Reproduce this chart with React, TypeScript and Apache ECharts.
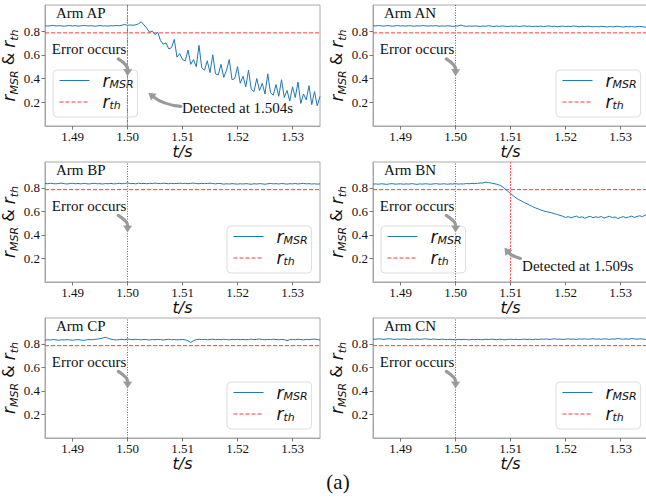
import React, { useEffect, useRef } from 'react';
import * as echarts from 'echarts';

// ---------------- data ----------------
const T_START = 1.485;
const T_END = 1.535;
const T_STEP = 0.0005;
const X_TICKS = [1.49, 1.5, 1.51, 1.52, 1.53];
const Y_TICKS = [0.2, 0.4, 0.6, 0.8];
const Y_MIN = 0;
const Y_MAX = 1.02;
const THRESHOLD = 0.785;
const ERROR_TIME = 1.5;
const ARM_NAMES = ['AP', 'AN', 'BP', 'BN', 'CP', 'CN'];
const DETECT_TIMES: Record<string, number> = { AP: 1.504, BN: 1.509 };

const R_AP = [
  0.846, 0.842, 0.845, 0.848, 0.843, 0.846, 0.844, 0.841, 0.845, 0.847,
  0.843, 0.846, 0.842, 0.844, 0.848, 0.845, 0.843, 0.846, 0.841, 0.844,
  0.847, 0.843, 0.845, 0.842, 0.846, 0.844, 0.848, 0.845, 0.85, 0.856,
  0.848, 0.852, 0.849, 0.853, 0.862, 0.878, 0.852, 0.825, 0.79, 0.8,
  0.77, 0.79, 0.72, 0.69, 0.7, 0.65, 0.66, 0.73, 0.58, 0.61,
  0.56, 0.55, 0.64, 0.52, 0.56, 0.5, 0.68, 0.49, 0.47, 0.55,
  0.45, 0.6, 0.44, 0.43, 0.52, 0.41, 0.47, 0.56, 0.39, 0.4,
  0.5, 0.36, 0.42, 0.33, 0.47, 0.31, 0.29, 0.4, 0.3, 0.36,
  0.27, 0.44, 0.28, 0.26, 0.35, 0.25, 0.39, 0.24, 0.3, 0.21,
  0.33, 0.24, 0.37, 0.19, 0.27, 0.22, 0.34, 0.18, 0.29, 0.17, 0.25,
];
const R_AN = [
  0.846, 0.843, 0.847, 0.844, 0.842, 0.846, 0.845, 0.841, 0.844, 0.847,
  0.843, 0.845, 0.842, 0.846, 0.844, 0.841, 0.845, 0.843, 0.847, 0.844,
  0.842, 0.845, 0.843, 0.846, 0.841, 0.844, 0.842, 0.845, 0.843, 0.84,
  0.842, 0.844, 0.851, 0.843, 0.84, 0.843, 0.841, 0.844, 0.842, 0.839,
  0.843, 0.841, 0.845, 0.842, 0.839, 0.843, 0.84, 0.844, 0.841, 0.838,
  0.842, 0.84, 0.843, 0.839, 0.841, 0.844, 0.84, 0.842, 0.838, 0.841,
  0.839, 0.842, 0.838, 0.841, 0.843, 0.839, 0.841, 0.837, 0.84, 0.842,
  0.838, 0.841, 0.839, 0.843, 0.84, 0.837, 0.84, 0.838, 0.841, 0.839,
  0.836, 0.839, 0.837, 0.84, 0.838, 0.835, 0.839, 0.836, 0.838, 0.841,
  0.837, 0.834, 0.838, 0.836, 0.839, 0.835, 0.837, 0.84, 0.836, 0.834, 0.838,
];
const R_BP = [
  0.838, 0.835, 0.839, 0.836, 0.834, 0.838, 0.84, 0.836, 0.833, 0.837,
  0.839, 0.835, 0.837, 0.834, 0.838, 0.836, 0.833, 0.837, 0.839, 0.835,
  0.836, 0.833, 0.837, 0.835, 0.838, 0.834, 0.836, 0.839, 0.835, 0.837,
  0.843, 0.836, 0.838, 0.834, 0.84, 0.836, 0.838, 0.835, 0.839, 0.837,
  0.841, 0.838, 0.836, 0.84, 0.837, 0.835, 0.839, 0.836, 0.838, 0.84,
  0.837, 0.839, 0.835, 0.838, 0.841, 0.837, 0.835, 0.839, 0.836, 0.838,
  0.84, 0.837, 0.834, 0.838, 0.836, 0.832, 0.835, 0.833, 0.836, 0.834,
  0.832, 0.835, 0.833, 0.836, 0.834, 0.831, 0.835, 0.833, 0.836, 0.834,
  0.831, 0.835, 0.838, 0.834, 0.836, 0.833, 0.837, 0.835, 0.832, 0.836,
  0.834, 0.837, 0.833, 0.836, 0.838, 0.834, 0.836, 0.833, 0.835, 0.832, 0.834,
];
const R_BN = [
  0.832, 0.834, 0.831, 0.835, 0.833, 0.83, 0.834, 0.836, 0.832, 0.833,
  0.835, 0.831, 0.834, 0.832, 0.836, 0.833, 0.83, 0.834, 0.832, 0.835,
  0.833, 0.831, 0.834, 0.836, 0.832, 0.833, 0.835, 0.831, 0.834, 0.833,
  0.836, 0.832, 0.834, 0.833, 0.837, 0.835, 0.838, 0.836, 0.839, 0.841,
  0.842, 0.849, 0.845, 0.841, 0.836, 0.831, 0.823, 0.811, 0.792, 0.772,
  0.752, 0.733, 0.715, 0.7, 0.688, 0.676, 0.665, 0.652, 0.641, 0.63,
  0.622, 0.612, 0.604, 0.598, 0.593, 0.588, 0.58, 0.574, 0.566, 0.559,
  0.548, 0.556, 0.545, 0.553, 0.56, 0.547, 0.555, 0.542, 0.552, 0.558,
  0.546, 0.554, 0.549, 0.557, 0.544, 0.551, 0.559, 0.547, 0.553, 0.54,
  0.548, 0.556, 0.545, 0.552, 0.56, 0.549, 0.557, 0.563, 0.555, 0.57, 0.566,
];
const R_CP = [
  0.832, 0.835, 0.833, 0.837, 0.834, 0.831, 0.835, 0.833, 0.836, 0.834,
  0.831, 0.834, 0.836, 0.833, 0.83, 0.834, 0.837, 0.835, 0.838, 0.84,
  0.844, 0.85, 0.856, 0.848, 0.84, 0.836, 0.833, 0.837, 0.839, 0.835,
  0.841, 0.838, 0.836, 0.839, 0.837, 0.834, 0.838, 0.836, 0.833, 0.837,
  0.835, 0.838, 0.836, 0.833, 0.837, 0.839, 0.835, 0.837, 0.834, 0.836,
  0.838, 0.834, 0.826, 0.812, 0.828, 0.836, 0.839, 0.836, 0.838, 0.835,
  0.837, 0.84, 0.836, 0.838, 0.835, 0.839, 0.837, 0.834, 0.838, 0.836,
  0.839, 0.836, 0.838, 0.835, 0.837, 0.84, 0.836, 0.838, 0.842, 0.837,
  0.835, 0.838, 0.836, 0.839, 0.837, 0.835, 0.838, 0.836, 0.828, 0.835,
  0.838, 0.836, 0.839, 0.837, 0.834, 0.838, 0.836, 0.839, 0.841, 0.837, 0.833,
];
const R_CN = [
  0.842, 0.839, 0.843, 0.841, 0.838, 0.842, 0.844, 0.84, 0.838, 0.841,
  0.839, 0.842, 0.84, 0.837, 0.841, 0.839, 0.842, 0.838, 0.84, 0.843,
  0.84, 0.838, 0.841, 0.839, 0.837, 0.84, 0.838, 0.836, 0.839, 0.837,
  0.835, 0.838, 0.836, 0.839, 0.837, 0.834, 0.838, 0.836, 0.839, 0.837,
  0.835, 0.839, 0.837, 0.84, 0.838, 0.836, 0.84, 0.837, 0.835, 0.838,
  0.84, 0.837, 0.839, 0.836, 0.838, 0.841, 0.837, 0.839, 0.836, 0.84,
  0.838, 0.841, 0.839, 0.842, 0.838, 0.84, 0.843, 0.839, 0.841, 0.838,
  0.84, 0.843, 0.839, 0.841, 0.838, 0.842, 0.84, 0.843, 0.839, 0.841,
  0.844, 0.84, 0.842, 0.839, 0.843, 0.841, 0.838, 0.842, 0.84, 0.845,
  0.842, 0.84, 0.843, 0.839, 0.846, 0.842, 0.84, 0.843, 0.841, 0.838, 0.842,
];
const R_BY_ARM: Record<string, number[]> = {
  AP: R_AP, AN: R_AN, BP: R_BP, BN: R_BN, CP: R_CP, CN: R_CN,
};
const TIME = R_AP.map((_, k) => Number((T_START + k * T_STEP).toFixed(4)));

// annotation anchor points in data coordinates
const ARM_LABEL_AT = [1.487, 0.955];
const ERROR_TEXT_AT = [1.4998, 0.648];
const ERROR_ARROW = { tail: [1.49833, 0.566], tip: [1.5, 0.42] };
const DETECT_ANNOT: Record<string, { text: number[]; tail: number[]; tip: number[] }> = {
  AP: { text: [1.5099, 0.152], tail: [1.5097, 0.165], tip: [1.5038, 0.281] },
  BN: { text: [1.5121, 0.139], tail: [1.5118, 0.2], tip: [1.5089, 0.292] },
};

// ---------------- layout / style ----------------
const COL_LEFT = [45, 373];
const ROW_TOP = [5, 162, 318];
const ROW_H = [121, 120, 120];
const PLOT_W = 275;
const LEGEND_POS = [
  { left: 53, top: 70 },
  { left: 556, top: 70 },
  { left: 227, top: 226 },
  { left: 381, top: 226 },
  { left: 227, top: 382 },
  { left: 556, top: 382 },
];
const BLUE = '#1f77b4';
const RED = '#ff3b3b';
const SPINE = '#a8a8a8';
const ARROW_GRAY = '#9a9a9a';
const TXT = '#111111';
const SERIF = "'Liberation Serif', 'Times New Roman', serif";
const SANS = "'DejaVu Sans', sans-serif";

const mathRich = {
  r: { fontFamily: SANS, fontStyle: 'italic', fontSize: 17, lineHeight: 22, color: TXT },
  r0: { fontFamily: SANS, fontStyle: 'italic', fontSize: 17, lineHeight: 18, color: TXT, padding: [0, 0, 0, 8] },
  s: { fontFamily: SANS, fontStyle: 'italic', fontSize: 11, lineHeight: 12, verticalAlign: 'bottom', color: TXT },
  a: { fontFamily: SANS, fontSize: 16, lineHeight: 22, color: TXT },
};

function buildOption() {
  const grid: any[] = [];
  const xAxis: any[] = [];
  const yAxis: any[] = [];
  const series: any[] = [];
  const legend: any[] = [];
  ARM_NAMES.forEach((arm, i) => {
    const row = Math.floor(i / 2);
    const col = i % 2;
    grid.push({
      left: COL_LEFT[col], top: ROW_TOP[row], width: PLOT_W, height: ROW_H[row],
      show: true, borderColor: SPINE, borderWidth: 1, backgroundColor: 'transparent',
      containLabel: false, outerBoundsMode: 'none',
    });
    xAxis.push({
      type: 'value', gridIndex: i, min: T_START, max: T_END,
      splitLine: { show: false },
      axisLine: { show: true, onZero: false, lineStyle: { color: SPINE, width: 1 } },
      axisTick: { show: true, length: 3.5, customValues: X_TICKS, lineStyle: { color: '#777' } },
      axisLabel: {
        customValues: X_TICKS, formatter: (v: number) => v.toFixed(2),
        fontFamily: SERIF, fontSize: 13, color: TXT, margin: 4,
      },
      name: 't/s', nameLocation: 'middle', nameGap: 6,
      nameTextStyle: { fontFamily: SANS, fontStyle: 'italic', fontSize: 16, color: TXT },
    });
    yAxis.push({
      type: 'value', gridIndex: i, min: Y_MIN, max: Y_MAX,
      splitLine: { show: false },
      axisLine: { show: true, onZero: false, lineStyle: { color: SPINE, width: 1 } },
      axisTick: { show: true, length: 3.5, customValues: Y_TICKS, lineStyle: { color: '#777' } },
      axisLabel: {
        customValues: Y_TICKS, formatter: (v: number) => v.toFixed(1),
        fontFamily: SERIF, fontSize: 13, color: TXT, margin: 5,
      },
      name: '{r|r}{s|MSR}{a| & }{r|r}{s|th}', nameLocation: 'middle', nameRotate: 90, nameGap: 16,
      nameTextStyle: { rich: mathRich },
    });
    series.push({
      name: 'rMSR', type: 'line', xAxisIndex: i, yAxisIndex: i,
      data: TIME.map((t, k) => [t, R_BY_ARM[arm][k]]),
      symbol: 'none', color: BLUE, lineStyle: { color: BLUE, width: 1 }, z: 3,
      markLine: {
        silent: true, symbol: ['none', 'none'], label: { show: false },
        lineStyle: { color: '#666', type: [1, 1.5], width: 1 },
        data: [{ xAxis: ERROR_TIME }],
      },
    });
    const thr: any = {
      name: 'rth', type: 'line', xAxisIndex: i, yAxisIndex: i,
      data: [[T_START, THRESHOLD], [T_END, THRESHOLD]],
      symbol: 'none', color: RED, lineStyle: { color: RED, width: 1, type: [4, 2] }, z: 2,
    };
    if (DETECT_TIMES[arm] !== undefined) {
      thr.markLine = {
        silent: true, symbol: ['none', 'none'], label: { show: false },
        lineStyle: { color: '#ff5555', type: [2, 1.2], width: 1, opacity: 1 },
        data: [{ xAxis: DETECT_TIMES[arm] }],
      };
    }
    series.push(thr);
    legend.push({
      orient: 'vertical', left: LEGEND_POS[i].left, top: LEGEND_POS[i].top,
      data: ['rMSR', 'rth'], itemWidth: 30, itemHeight: 14, itemGap: 4,
      padding: [2, 4, 6, 6], backgroundColor: 'rgba(255,255,255,0.85)',
      borderColor: '#dddddd', borderWidth: 1, borderRadius: 4, selectedMode: false,
      itemStyle: { opacity: 0, borderWidth: 0 },
      lineStyle: { width: 1 },
      formatter: (name: string) => (name === 'rMSR' ? '{r0|r}{s|MSR}' : '{r0|r}{s|th}'),
      textStyle: { rich: mathRich },
    });
  });
  return {
    animation: false,
    backgroundColor: '#ffffff',
    grid, xAxis, yAxis, series, legend,
  };
}

function arrowGraphics(p0: number[], p2: number[], rad: number) {
  const dx = p2[0] - p0[0];
  const dy = p2[1] - p0[1];
  const c = [(p0[0] + p2[0]) / 2 + rad * dy, (p0[1] + p2[1]) / 2 - rad * dx];
  let ux = p2[0] - c[0];
  let uy = p2[1] - c[1];
  const ul = Math.hypot(ux, uy) || 1;
  ux /= ul; uy /= ul;
  const headLen = 7;
  const headHalf = 4.5;
  const b = [p2[0] - ux * headLen, p2[1] - uy * headLen];
  const nx = -uy, ny = ux;
  return [
    {
      type: 'bezierCurve', silent: true, z: 10,
      shape: { x1: p0[0], y1: p0[1], x2: b[0], y2: b[1], cpx1: c[0], cpy1: c[1] },
      style: { stroke: ARROW_GRAY, lineWidth: 3.2, fill: null, lineCap: 'round' },
    },
    {
      type: 'polygon', silent: true, z: 10,
      shape: { points: [[p2[0], p2[1]], [b[0] + nx * headHalf, b[1] + ny * headHalf], [b[0] - nx * headHalf, b[1] - ny * headHalf]] },
      style: { fill: ARROW_GRAY },
    },
  ];
}

function textEl(x: number, y: number, text: string, align: string, size = 15) {
  return {
    type: 'text', x, y, silent: true, z: 20,
    style: { text, fontFamily: SERIF, fontSize: size, fill: TXT, align, verticalAlign: 'middle' },
  };
}

export default function App() {
  const ref = useRef<HTMLDivElement>(null);
  useEffect(() => {
    if (!ref.current) return;
    const chart = echarts.init(ref.current, undefined, { renderer: 'svg' });
    chart.setOption(buildOption() as any);
    const graphics: any[] = [];
    ARM_NAMES.forEach((arm, i) => {
      const px = (pt: number[]) => chart.convertToPixel({ gridIndex: i } as any, pt) as number[];
      const a = px(ARM_LABEL_AT);
      graphics.push(textEl(a[0], a[1], `Arm ${arm}`, 'left'));
      const e = px(ERROR_TEXT_AT);
      graphics.push(textEl(e[0], e[1], 'Error occurs', 'right'));
      graphics.push(...arrowGraphics(px(ERROR_ARROW.tail), px(ERROR_ARROW.tip), 0.28));
      const d = DETECT_ANNOT[arm];
      if (d) {
        const tp = px(d.text);
        graphics.push(textEl(tp[0], tp[1], `Detected at ${DETECT_TIMES[arm].toFixed(3)}s`, 'left'));
        graphics.push(...arrowGraphics(px(d.tail), px(d.tip), 0.15));
      }
    });
    graphics.push({
      type: 'text', x: 338, y: 482, silent: true,
      style: { text: '(a)', fontFamily: SERIF, fontSize: 21, fill: TXT, align: 'center', verticalAlign: 'middle' },
    });
    chart.setOption({ graphic: graphics } as any);
    return () => chart.dispose();
  }, []);
  return <div ref={ref} style={{ position: 'absolute', left: 0, top: 0, width: 646, height: 499 }} />;
}
